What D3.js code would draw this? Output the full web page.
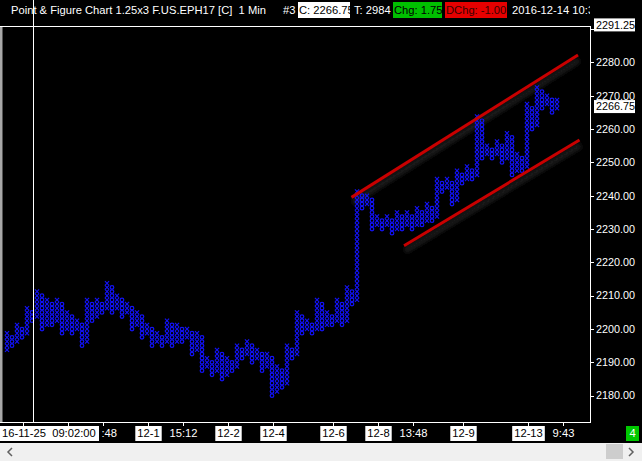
<!DOCTYPE html>
<html><head><meta charset="utf-8">
<script src="https://cdn.jsdelivr.net/npm/d3@7/dist/d3.min.js"></script>
<style>html,body{margin:0;padding:0;background:#000;overflow:hidden} text{white-space:pre}</style>
</head><body>
<svg id="c" width="642" height="461"></svg>
<script>
// ---------- data ----------
const boxSize = 1.25;
const firstColumnType = "X";
const colTop = [
 2198.75,2197.5,2201.25,2200,2206.25,2205,2211.25,2210,2208.75,2207.5,
 2208.75,2207.5,2205,2203.75,2202.5,2201.25,2208.75,2207.5,2208.75,2207.5,
 2213.75,2212.5,2210,2208.75,2207.5,2206.25,2205,2203.75,2201.25,2200,
 2198.75,2197.5,2202.5,2201.25,2201.25,2200,2200,2198.75,2198.75,2197.5,
 2191.25,2190,2193.75,2192.5,2191.25,2190,2195,2193.75,2196.25,2195,
 2193.75,2192.5,2192.5,2191.25,2188.75,2187.5,2195,2193.75,2205,2203.75,
 2202.5,2201.25,2208.75,2207.5,2205,2203.75,2208.75,2207.5,2212.5,2211.25,
 2241.25,2240,2240,2238.75,2233.75,2232.5,2233.75,2232.5,2235,2233.75,
 2235,2233.75,2236.25,2235,2237.5,2236.25,2245,2243.75,2245,2243.75,
 2247.5,2246.25,2248.75,2247.5,2263.75,2262.5,2255,2253.75,2256.25,2255,
 2258.75,2257.5,2252.5,2251.25,2267.5,2266.25,2272.5,2271.25,2270,2268.75,
 2268.75];
const colBottom = [
 2193.75,2195,2196.25,2197.5,2198.75,2202.5,2203.75,2200,2201.25,2201.25,
 2202.5,2198.75,2200,2198.75,2200,2195,2196.25,2202.5,2203.75,2205,
 2206.25,2205,2206.25,2203.75,2205,2200,2201.25,2197.5,2198.75,2195,
 2196.25,2195,2196.25,2195,2196.25,2196.25,2197.5,2192.5,2193.75,2187.5,
 2188.75,2186.25,2187.5,2185,2186.25,2187.5,2188.75,2191.25,2192.5,2190,
 2191.25,2187.5,2188.75,2180,2181.25,2182.5,2183.75,2191.25,2192.5,2198.75,
 2200,2198.75,2200,2200,2201.25,2201.25,2202.5,2201.25,2202.5,2207.5,
 2208.75,2236.25,2237.5,2230,2231.25,2230,2231.25,2228.75,2230,2230,
 2231.25,2230,2231.25,2231.25,2232.5,2232.5,2233.75,2241.25,2242.5,2237.5,
 2238.75,2243.75,2245,2245,2246.25,2251.25,2252.5,2251.25,2252.5,2250,
 2251.25,2246.25,2247.5,2247.5,2248.75,2260,2261.25,2266.25,2267.5,2265,
 2266.25];
const priceTicks = [2180,2190,2200,2210,2220,2230,2240,2250,2260,2270,2280,2290];
const timeTickCols = [3,12,19,28,35,44,53,65,74,81,91,104,111];
const timeTickLabels = ["","",":48","12-1","15:12","12-2","12-4","12-6","12-8","13:48","12-9","12-13","9:43"];
const cursorCol = 5.2;
const cursorLabel = "16-11-25  09:02:00";
const lastPrice = 2266.75;
const highPrice = 2291.25;
const upperChannel = [[68.9, 2239.5],[114.2, 2282.2]];
const lowerChannel = [[79.4, 2225.0],[114.5, 2256.7]];
const titleText = "Point & Figure Chart 1.25x3 F.US.EPH17 [C]  1 Min";
const barNo = "#3";
const closeText = "C: 2266.75";
const tickText = "T: 2984";
const chgText = "Chg: 1.75";
const dchgText = "DChg: -1.00";
const dateText = "2016-12-14 10:33";
const pageNo = "4";

// ---------- layout ----------
const W = 642, H = 461;
const plotL = 0, plotR = 590, plotT = 26, plotB = 422;
const FONT = "'Liberation Sans', Arial, sans-serif";
const BLUE = "#1212f8";
const AXFS = 10.8, TFS = 11.2;

const svg = d3.select("#c");
svg.append("rect").attr("width", W).attr("height", H).attr("fill", "#000");

const defs = svg.append("defs");
defs.append("filter").attr("id","blur").attr("x","-20%").attr("y","-50%").attr("width","140%").attr("height","200%")
  .append("feGaussianBlur").attr("stdDeviation", 2);
defs.append("clipPath").attr("id","plotClip").append("rect")
  .attr("x", plotL).attr("y", plotT+1).attr("width", plotR-plotL).attr("height", plotB-plotT-1);
defs.append("clipPath").attr("id","titleClip").append("rect")
  .attr("x", 0).attr("y", 0).attr("width", plotR).attr("height", plotT);

const x = d3.scaleLinear().domain([0, 110]).range([7, 557]);
const y = d3.scaleLinear().domain([2180, 2280]).range([395.7, 62.4]);

// ---------- channel lines ----------
const plot = svg.append("g").attr("clip-path","url(#plotClip)");
const line = d3.line().x(d => x(d[0])).y(d => y(d[1]));
[upperChannel, lowerChannel].forEach(ch => {
  plot.append("path").attr("d", line(ch)).attr("transform","translate(1,5)")
    .attr("stroke","#1f1f1f").attr("stroke-width",6).attr("fill","none").attr("filter","url(#blur)");
});

// ---------- point & figure columns ----------
const columns = colTop.map((t, i) => ({
  i, top: t, bottom: colBottom[i],
  type: (i % 2 === 0) ? firstColumnType : (firstColumnType === "X" ? "O" : "X")
}));
const cols = plot.append("g").selectAll("g").data(columns).join("g");
cols.each(function(c) {
  const g = d3.select(this);
  const n = Math.round((c.top - c.bottom) / boxSize) + 1;
  const boxes = d3.range(n).map(k => c.bottom + k * boxSize);
  const cx = x(c.i);
  if (c.type === "X") {
    g.selectAll("path").data(boxes).join("path")
      .attr("d", p => { const cy = y(p); return `M${cx-2.1},${cy-2.1}L${cx+2.1},${cy+2.1}M${cx+2.1},${cy-2.1}L${cx-2.1},${cy+2.1}`; })
      .attr("stroke", BLUE).attr("stroke-width", 1.1).attr("fill","none");
  } else {
    g.selectAll("ellipse").data(boxes).join("ellipse")
      .attr("cx", cx).attr("cy", p => y(p)).attr("rx", 1.8).attr("ry", 1.75)
      .attr("stroke", BLUE).attr("stroke-width", 1.2).attr("fill","none");
  }
});

[upperChannel, lowerChannel].forEach(ch => {
  plot.append("path").attr("d", line(ch))
    .attr("stroke","#c80000").attr("stroke-width",3).attr("fill","none");
});

// ---------- frame ----------
svg.append("line").attr("x1",0).attr("x2",plotR).attr("y1",plotT+0.5).attr("y2",plotT+0.5).attr("stroke","#fff");
svg.append("line").attr("x1",0).attr("x2",plotR+1).attr("y1",plotB+0.5).attr("y2",plotB+0.5).attr("stroke","#fff");
svg.append("line").attr("x1",plotR+0.5).attr("x2",plotR+0.5).attr("y1",plotT).attr("y2",plotB+1).attr("stroke","#fff");
svg.append("rect").attr("x",0).attr("y",plotT+1).attr("width",2.5).attr("height",plotB-plotT-1).attr("fill","#a8a8a8");

// ---------- right axis ----------
const ra = svg.append("g");
ra.selectAll("line.t").data(priceTicks).join("line").attr("class","t")
  .attr("x1", plotR+1).attr("x2", plotR+4).attr("y1", d => Math.round(y(d))+0.5).attr("y2", d => Math.round(y(d))+0.5)
  .attr("stroke","#fff");
ra.selectAll("text").data(priceTicks.filter(d => y(d) > y(highPrice) + 12)).join("text")
  .attr("x", 596).attr("y", d => y(d)).attr("dy","0.35em")
  .attr("fill","#fff").attr("font-family",FONT).attr("font-size",AXFS)
  .text(d => d3.format(".2f")(d));
function priceBox(p) {
  const g = svg.append("g");
  const cy = y(p);
  g.append("rect").attr("x",594).attr("y",cy-6.5).attr("width",41).attr("height",13).attr("fill","#fff");
  g.append("text").attr("x",596).attr("y",cy).attr("dy","0.35em").attr("fill","#000")
    .attr("font-family",FONT).attr("font-size",AXFS).text(d3.format(".2f")(p));
}
priceBox(highPrice);
priceBox(lastPrice);

// ---------- bottom axis ----------
const ba = svg.append("g");
timeTickCols.forEach((c, k) => {
  const tx = Math.round(x(c)) + 1.5;
  ba.append("line").attr("x1",tx).attr("x2",tx).attr("y1",plotB+1).attr("y2",plotB+4).attr("stroke","#fff");
  const lab = timeTickLabels[k];
  if (!lab) return;
  const isDate = lab.indexOf("-") >= 0;
  const t = ba.append("text").attr("x", tx).attr("y", 433.5).attr("dy","0.35em")
    .attr("text-anchor","middle").attr("font-family",FONT).attr("font-size",TFS)
    .attr("fill", isDate ? "#000" : "#fff").text(lab);
  if (lab.startsWith(":")) t.attr("text-anchor","start").attr("x", tx - 2);
  if (isDate) {
    const bb = t.node().getBBox();
    ba.insert("rect","text").attr("x", bb.x - 2).attr("y", 426).attr("width", bb.width + 4).attr("height", 15).attr("fill","#fff");
  }
});

// cursor
const cx0 = Math.round(x(cursorCol)) + 0.5;
svg.append("line").attr("x1",cx0).attr("x2",cx0).attr("y1",0).attr("y2",plotB+1).attr("stroke","#fff");
svg.append("rect").attr("x",0).attr("y",426).attr("width",99).attr("height",15).attr("fill","#fff");
svg.append("text").attr("x",2).attr("y",433.5).attr("dy","0.35em").attr("font-family",FONT).attr("font-size",TFS)
  .attr("fill","#000").text(cursorLabel);

// page box
svg.append("rect").attr("x",626).attr("y",426).attr("width",13).attr("height",15).attr("fill","#00c800");
svg.append("text").attr("x",632.5).attr("y",433.5).attr("dy","0.35em").attr("text-anchor","middle")
  .attr("font-family",FONT).attr("font-size",TFS).attr("fill","#fff").text(pageNo);

// scrollbar
svg.append("rect").attr("x",0).attr("y",443).attr("width",W).attr("height",18).attr("fill","#f0f0f0");
svg.append("rect").attr("x",606).attr("y",444).attr("width",17).attr("height",15).attr("fill","#cdcdcd");
svg.append("path").attr("d","M12,448L8,452L12,456").attr("stroke","#606060").attr("stroke-width",1.5).attr("fill","none");
svg.append("path").attr("d","M629,448L633,452L629,456").attr("stroke","#606060").attr("stroke-width",1.5).attr("fill","none");

// ---------- title ----------
const tg = svg.append("g").attr("clip-path","url(#titleClip)");
const ty = 10;
function ttext(xp, s, fill) {
  return tg.append("text").attr("x", xp).attr("y", ty).attr("dy","0.35em").attr("font-family",FONT)
    .attr("font-size",TFS).attr("fill",fill).text(s);
}
ttext(11, titleText, "#fff");
ttext(283, barNo, "#fff");
tg.append("rect").attr("x",298).attr("y",2).attr("width",52).attr("height",16).attr("fill","#fff");
ttext(299, closeText, "#000");
ttext(354, tickText, "#fff");
tg.append("rect").attr("x",393).attr("y",2).attr("width",49).attr("height",16).attr("fill","#00c000");
ttext(394, chgText, "#000");
defs.append("clipPath").attr("id","dchgClip").append("rect").attr("x",445).attr("y",0).attr("width",62).attr("height",20);
tg.append("rect").attr("x",445).attr("y",2).attr("width",62).attr("height",16).attr("fill","#e60000");
tg.append("g").attr("clip-path","url(#dchgClip)").append("text").attr("x",446).attr("y",ty).attr("dy","0.35em")
  .attr("font-family",FONT).attr("font-size",TFS).attr("fill","#3a0000").text(dchgText);
ttext(512, dateText, "#fff");
// redraw cursor over title
svg.append("line").attr("x1",cx0).attr("x2",cx0).attr("y1",0).attr("y2",plotT).attr("stroke","#fff");
</script>
</body></html>
